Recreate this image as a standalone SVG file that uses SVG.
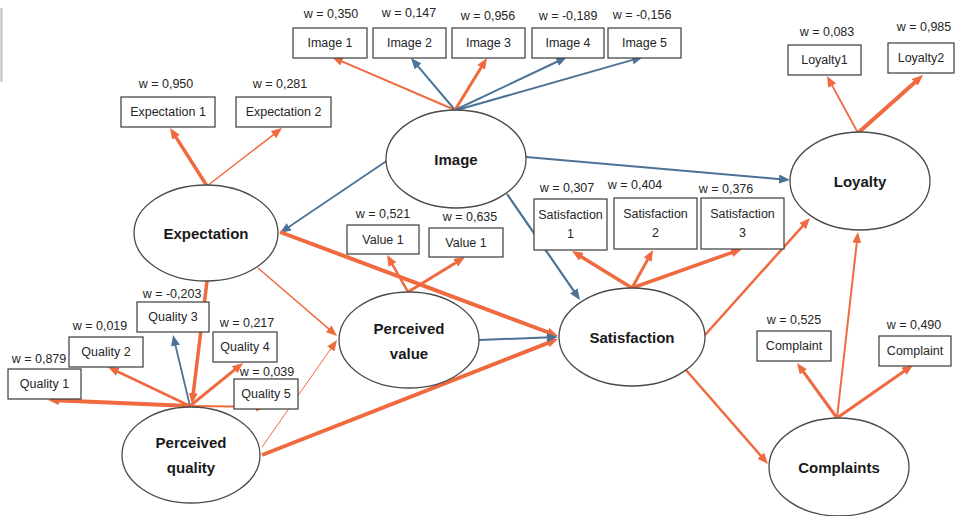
<svg xmlns="http://www.w3.org/2000/svg" width="956" height="516" viewBox="0 0 956 516">
  <style>
    .o { stroke: #F06A3F; fill: none; marker-end: url(#ah-o); }
    .b { stroke: #4C7396; fill: none; marker-end: url(#ah-b); }
    .box rect { fill: #fff; stroke: #3a3a3a; stroke-width: 1.2; }
    .lat ellipse { fill: #fff; stroke: #4a4a4a; stroke-width: 1.3; }
    text { font-family: "Liberation Sans", Arial, sans-serif; text-anchor: middle; fill: #262626; }
    .t { font-size: 12.5px; }
    .w { font-size: 12.5px; }
    .lt { font-size: 15px; font-weight: bold; fill: #1a1a1a; }
  </style>
  <defs>
    <marker id="ah-o" viewBox="0 0 11 9" markerWidth="11" markerHeight="9" refX="4" refY="4.5" orient="auto" markerUnits="userSpaceOnUse">
      <path d="M0,0 L11,4.5 L0,9 z" fill="#F06A3F"/>
    </marker>
    <marker id="ah-b" viewBox="0 0 11 9" markerWidth="11" markerHeight="9" refX="4" refY="4.5" orient="auto" markerUnits="userSpaceOnUse">
      <path d="M0,0 L11,4.5 L0,9 z" fill="#4C7396"/>
    </marker>
  </defs>
  <rect width="956" height="516" fill="#fff"/>
  <!-- faint frame edge at the left -->
  <line x1="1.5" y1="8" x2="1.5" y2="82" stroke="#bdbdbd" stroke-width="2"/>

  <g id="connectors">
    <!-- Image indicators -->
    <line class="o" x1="455" y1="110" x2="338.4" y2="59.8" stroke-width="2"/>
    <line class="b" x1="455" y1="110" x2="415.5" y2="63.3" stroke-width="2"/>
    <line class="o" x1="455" y1="110" x2="483.3" y2="64" stroke-width="3"/>
    <line class="b" x1="455" y1="110" x2="560.7" y2="60" stroke-width="2"/>
    <line class="b" x1="457" y1="110" x2="636.3" y2="58.9" stroke-width="2"/>
    <!-- Expectation indicators -->
    <line class="o" x1="207" y1="186" x2="173.8" y2="133.9" stroke-width="3.5"/>
    <line class="o" x1="207" y1="186" x2="276.5" y2="132.3" stroke-width="1.5"/>
    <!-- Image paths -->
    <line class="b" x1="388" y1="160" x2="285.8" y2="229.1" stroke-width="1.8"/>
    <line class="b" x1="526" y1="157" x2="783" y2="179.4" stroke-width="2"/>
    <line class="b" x1="507" y1="194" x2="576" y2="294.2" stroke-width="2.2"/>
    <!-- Expectation paths -->
    <line class="o" x1="280" y1="232" x2="551.4" y2="333.5" stroke-width="4"/>
    <line class="o" x1="258" y1="268" x2="331.7" y2="331.4" stroke-width="1.5"/>
    <line class="o" x1="207" y1="281" x2="192.8" y2="397" stroke-width="3.5"/>
    <!-- Perceived quality indicators -->
    <line class="o" x1="190" y1="406" x2="55" y2="400.3" stroke-width="4"/>
    <line class="o" x1="190" y1="406" x2="114.3" y2="370" stroke-width="2.5"/>
    <line class="b" x1="190" y1="406" x2="174.6" y2="341.8" stroke-width="1.8"/>
    <line class="o" x1="190" y1="406" x2="237.6" y2="367.4" stroke-width="3"/>
    <line class="o" x1="190" y1="406" x2="260" y2="406.9" stroke-width="2"/>
    <!-- Perceived quality paths -->
    <line class="o" x1="262" y1="447" x2="333" y2="345.7" stroke-width="1"/>
    <line class="o" x1="262" y1="455" x2="551.5" y2="341.6" stroke-width="4"/>
    <!-- Perceived value -->
    <line class="b" x1="479" y1="340" x2="551" y2="337.3" stroke-width="2"/>
    <line class="o" x1="408" y1="292" x2="390.5" y2="261.1" stroke-width="2.5"/>
    <line class="o" x1="408" y1="292" x2="459" y2="260.7" stroke-width="3"/>
    <!-- Satisfaction indicators -->
    <line class="o" x1="632" y1="288" x2="578" y2="254.7" stroke-width="3.5"/>
    <line class="o" x1="632" y1="288" x2="649.6" y2="256.1" stroke-width="3"/>
    <line class="o" x1="632" y1="288" x2="735.4" y2="251.3" stroke-width="3.5"/>
    <!-- Satisfaction paths -->
    <line class="o" x1="705" y1="335" x2="805.3" y2="223.2" stroke-width="2.5"/>
    <line class="o" x1="686" y1="370" x2="763.4" y2="458.7" stroke-width="2.5"/>
    <!-- Complaints -->
    <line class="o" x1="837" y1="418" x2="857.2" y2="239" stroke-width="2"/>
    <line class="o" x1="837" y1="418" x2="801.1" y2="368.7" stroke-width="3"/>
    <line class="o" x1="837" y1="418" x2="907.3" y2="369" stroke-width="3"/>
    <!-- Loyalty indicators -->
    <line class="o" x1="858" y1="133" x2="830.3" y2="82.1" stroke-width="1.8"/>
    <line class="o" x1="858" y1="133" x2="917.8" y2="79.7" stroke-width="4"/>
  </g>

  <!-- Latent constructs -->
  <g id="image" class="lat">
    <ellipse cx="456" cy="159" rx="70" ry="49"/>
    <text class="lt" x="456" y="165">Image</text>
  </g>
  <g id="expectation" class="lat">
    <ellipse cx="206" cy="233" rx="72" ry="48"/>
    <text class="lt" x="206" y="239">Expectation</text>
  </g>
  <g id="perceived-quality" class="lat">
    <ellipse cx="191" cy="455" rx="69" ry="48"/>
    <text class="lt" x="191" y="448">Perceived</text>
    <text class="lt" x="191" y="473">quality</text>
  </g>
  <g id="perceived-value" class="lat">
    <ellipse cx="409" cy="340" rx="70" ry="48"/>
    <text class="lt" x="409" y="334">Perceived</text>
    <text class="lt" x="409" y="359">value</text>
  </g>
  <g id="satisfaction" class="lat">
    <ellipse cx="632" cy="337" rx="73" ry="49"/>
    <text class="lt" x="632" y="343">Satisfaction</text>
  </g>
  <g id="loyalty" class="lat">
    <ellipse cx="860" cy="181" rx="70" ry="49"/>
    <text class="lt" x="860" y="187">Loyalty</text>
  </g>
  <g id="complaints" class="lat">
    <ellipse cx="839" cy="467" rx="70" ry="49"/>
    <text class="lt" x="839" y="473">Complaints</text>
  </g>

  <!-- Indicators: Image -->
  <g id="image1" class="box">
    <text class="w" x="331" y="18">w = 0,350</text>
    <rect x="293" y="28" width="74" height="30"/>
    <text class="t" x="330" y="47">Image 1</text>
  </g>
  <g id="image2" class="box">
    <text class="w" x="409" y="17">w = 0,147</text>
    <rect x="373" y="28" width="73" height="30"/>
    <text class="t" x="409.5" y="47">Image 2</text>
  </g>
  <g id="image3" class="box">
    <text class="w" x="488" y="20">w = 0,956</text>
    <rect x="452" y="28" width="73" height="30"/>
    <text class="t" x="488.5" y="47">Image 3</text>
  </g>
  <g id="image4" class="box">
    <text class="w" x="568" y="20">w = -0,189</text>
    <rect x="532" y="28" width="72" height="30"/>
    <text class="t" x="568" y="47">Image 4</text>
  </g>
  <g id="image5" class="box">
    <text class="w" x="642" y="19">w = -0,156</text>
    <rect x="608" y="28" width="73" height="30"/>
    <text class="t" x="644.5" y="47">Image 5</text>
  </g>

  <!-- Indicators: Expectation -->
  <g id="expectation1" class="box">
    <text class="w" x="166" y="88">w = 0,950</text>
    <rect x="121" y="97" width="94" height="30"/>
    <text class="t" x="168" y="116">Expectation 1</text>
  </g>
  <g id="expectation2" class="box">
    <text class="w" x="280" y="88">w = 0,281</text>
    <rect x="236" y="97" width="95" height="30"/>
    <text class="t" x="283.5" y="116">Expectation 2</text>
  </g>

  <!-- Indicators: Perceived quality -->
  <g id="quality1" class="box">
    <text class="w" x="39" y="363">w = 0,879</text>
    <rect x="8" y="369" width="73" height="30"/>
    <text class="t" x="44.5" y="388">Quality 1</text>
  </g>
  <g id="quality2" class="box">
    <text class="w" x="100" y="330">w = 0,019</text>
    <rect x="69" y="337" width="74" height="30"/>
    <text class="t" x="106" y="356">Quality 2</text>
  </g>
  <g id="quality3" class="box">
    <text class="w" x="172" y="298">w = -0,203</text>
    <rect x="137" y="302" width="72" height="30"/>
    <text class="t" x="173" y="321">Quality 3</text>
  </g>
  <g id="quality4" class="box">
    <text class="w" x="247" y="327">w = 0,217</text>
    <rect x="213" y="332" width="64" height="30"/>
    <text class="t" x="245" y="351">Quality 4</text>
  </g>
  <g id="quality5" class="box">
    <text class="w" x="267" y="376">w = 0,039</text>
    <rect x="234" y="379" width="64" height="30"/>
    <text class="t" x="266" y="398">Quality 5</text>
  </g>

  <!-- Indicators: Perceived value -->
  <g id="value1a" class="box">
    <text class="w" x="383" y="218">w = 0,521</text>
    <rect x="347" y="225" width="72" height="29"/>
    <text class="t" x="383" y="244">Value 1</text>
  </g>
  <g id="value1b" class="box">
    <text class="w" x="470" y="221">w = 0,635</text>
    <rect x="429" y="228" width="74" height="29"/>
    <text class="t" x="466" y="247">Value 1</text>
  </g>

  <!-- Indicators: Satisfaction -->
  <g id="satisfaction1" class="box">
    <text class="w" x="567" y="192">w = 0,307</text>
    <rect x="534" y="199" width="73" height="51"/>
    <text class="t" x="570.5" y="219">Satisfaction</text>
    <text class="t" x="570.5" y="238">1</text>
  </g>
  <g id="satisfaction2" class="box">
    <text class="w" x="635" y="189">w = 0,404</text>
    <rect x="614" y="198" width="83" height="51"/>
    <text class="t" x="655.5" y="218">Satisfaction</text>
    <text class="t" x="655.5" y="237">2</text>
  </g>
  <g id="satisfaction3" class="box">
    <text class="w" x="726" y="193">w = 0,376</text>
    <rect x="701" y="198" width="83" height="51"/>
    <text class="t" x="742.5" y="218">Satisfaction</text>
    <text class="t" x="742.5" y="237">3</text>
  </g>

  <!-- Indicators: Loyalty -->
  <g id="loyalty1" class="box">
    <text class="w" x="827" y="36">w = 0,083</text>
    <rect x="788" y="45" width="73" height="30"/>
    <text class="t" x="824.5" y="64">Loyalty1</text>
  </g>
  <g id="loyalty2" class="box">
    <text class="w" x="924" y="31">w = 0,985</text>
    <rect x="888" y="43" width="66" height="30"/>
    <text class="t" x="921" y="62">Loyalty2</text>
  </g>

  <!-- Indicators: Complaints -->
  <g id="complaint1" class="box">
    <text class="w" x="794" y="324">w = 0,525</text>
    <rect x="757" y="331" width="74" height="30"/>
    <text class="t" x="794" y="350">Complaint</text>
  </g>
  <g id="complaint2" class="box">
    <text class="w" x="914" y="329">w = 0,490</text>
    <rect x="879" y="336" width="72" height="30"/>
    <text class="t" x="915" y="355">Complaint</text>
  </g>
</svg>
